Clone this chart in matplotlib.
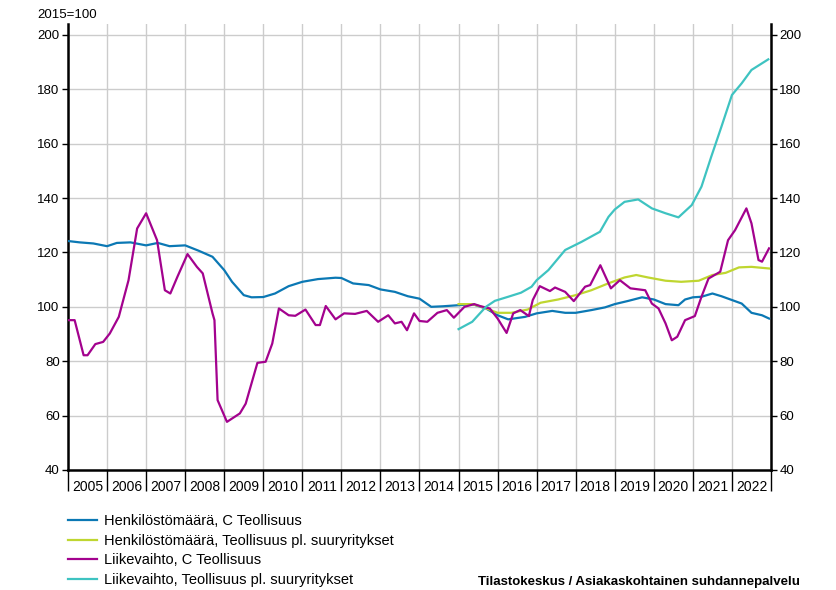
import matplotlib.pyplot as plt
import numpy as np

plt.rcParams['font.family'] = ['Liberation Sans', 'DejaVu Sans']

# Henkilöstömäärä, C Teollisuus
henk_c_t = [2005.0, 2005.3, 2005.65, 2006.0, 2006.25, 2006.6, 2007.0, 2007.3, 2007.6, 2008.0,
            2008.35, 2008.7, 2009.0, 2009.2, 2009.5, 2009.7, 2010.0, 2010.3, 2010.65, 2011.0,
            2011.4, 2011.85, 2012.0, 2012.3, 2012.7, 2013.0, 2013.37, 2013.7, 2014.0, 2014.3,
            2014.6, 2015.0, 2015.35, 2015.7, 2016.0, 2016.27, 2016.7, 2017.0, 2017.4, 2017.73,
            2018.0, 2018.4, 2018.75, 2019.0, 2019.35, 2019.7, 2020.0, 2020.3, 2020.63, 2020.8,
            2021.0, 2021.22, 2021.5, 2021.73, 2022.0, 2022.25, 2022.5, 2022.77, 2022.95]
henk_c = [124.2, 123.7, 123.3, 122.3, 123.5, 123.7, 122.6, 123.5, 122.3, 122.6,
          120.6, 118.4, 113.5, 109.2, 104.3, 103.5, 103.6, 104.9, 107.6, 109.2,
          110.2, 110.7, 110.6, 108.6, 108.0, 106.4, 105.5, 103.9, 103.0, 100.0,
          100.2, 100.6, 101.0, 99.4, 96.9, 95.4, 96.3, 97.6, 98.5, 97.8,
          97.8, 98.8, 99.8, 101.0, 102.2, 103.5, 102.7, 101.0, 100.6, 102.7,
          103.5, 103.7, 104.9, 103.9, 102.5, 101.2, 97.8, 96.9, 95.7]

# Henkilöstömäärä, Teollisuus pl. suuryritykset
henk_pl_t = [2015.0, 2015.35, 2015.6, 2016.0, 2016.35, 2016.77, 2017.1, 2017.55, 2018.0, 2018.4,
             2018.83, 2019.25, 2019.55, 2019.85, 2020.3, 2020.7, 2021.15, 2021.5, 2021.84,
             2022.18, 2022.5, 2022.95]
henk_pl = [101.0, 101.0, 100.0, 97.8, 97.8, 99.0, 101.5, 102.7, 104.3, 106.1,
           108.6, 110.8, 111.7, 110.8, 109.6, 109.2, 109.6, 111.7, 112.5,
           114.5, 114.7, 114.1]

# Liikevaihto, C Teollisuus
liik_c_t = [2005.0, 2005.17, 2005.4, 2005.5, 2005.7, 2005.9, 2006.07, 2006.3, 2006.55, 2006.77,
            2007.0, 2007.28, 2007.48, 2007.62, 2007.8, 2008.06, 2008.3, 2008.45, 2008.7, 2008.75,
            2008.83, 2009.07, 2009.4, 2009.55, 2009.85, 2010.06, 2010.23, 2010.4, 2010.65, 2010.82,
            2011.08, 2011.34, 2011.45, 2011.6, 2011.85, 2012.07, 2012.35, 2012.65, 2012.94, 2013.2,
            2013.37, 2013.54, 2013.68, 2013.86, 2014.0, 2014.2, 2014.46, 2014.7, 2014.88, 2015.15,
            2015.4, 2015.57, 2015.8, 2016.0, 2016.23, 2016.4, 2016.58, 2016.8, 2016.9, 2017.08,
            2017.34, 2017.47, 2017.73, 2017.95, 2018.24, 2018.37, 2018.63, 2018.9, 2019.13, 2019.4,
            2019.78, 2019.95, 2020.12, 2020.3, 2020.46, 2020.6, 2020.8, 2021.05, 2021.22, 2021.4,
            2021.7, 2021.9, 2022.08, 2022.37, 2022.5, 2022.68, 2022.77, 2022.95]
liik_c = [95.1, 95.1, 82.2, 82.2, 86.3, 87.1, 90.2, 96.3, 109.8, 128.8,
          134.4, 124.5, 106.1, 104.9, 111.0, 119.4, 114.7, 112.3, 97.6, 95.1,
          65.7, 57.7, 60.8, 64.4, 79.4, 79.8, 86.5, 99.4, 96.9, 96.7,
          99.0, 93.3, 93.3, 100.3, 95.4, 97.6, 97.4, 98.5, 94.5, 96.9,
          93.9, 94.5, 91.4, 97.6, 94.8, 94.5, 97.8, 98.8, 96.0, 100.0,
          101.0, 100.2, 99.4, 95.7, 90.4, 97.6, 98.8, 96.6, 102.5, 107.6,
          105.8, 107.1, 105.5, 102.1, 107.4, 108.0, 115.3, 106.8, 109.8, 106.8,
          106.1, 101.2, 99.4, 93.9, 87.7, 89.0, 95.1, 96.6, 103.7, 110.4,
          112.9, 124.5, 128.2, 136.2, 130.7, 117.2, 116.6, 121.5]

# Liikevaihto, Teollisuus pl. suuryritykset
liik_pl_t = [2015.0, 2015.35, 2015.7, 2015.93, 2016.27, 2016.6, 2016.87, 2017.0, 2017.3, 2017.73,
             2018.15, 2018.62, 2018.84, 2019.0, 2019.25, 2019.6, 2019.95, 2020.3, 2020.63, 2020.97,
             2021.22, 2021.47, 2021.73, 2022.0, 2022.25, 2022.5, 2022.93]
liik_pl = [91.8, 94.5, 100.0, 102.2, 103.7, 105.2, 107.4, 109.8, 113.5, 120.9,
           123.9, 127.6, 133.1, 135.8, 138.6, 139.5, 136.2, 134.4, 132.9, 137.4,
           144.2, 155.2, 166.2, 177.9, 182.2, 187.1, 191.0]

years = list(range(2005, 2023))
labels = ['Henkilöstömäärä, C Teollisuus',
          'Henkilöstömäärä, Teollisuus pl. suuryritykset',
          'Liikevaihto, C Teollisuus',
          'Liikevaihto, Teollisuus pl. suuryritykset']
colors = ['#0b78b4', '#bfd630', '#a3028e', '#3ec3c1']

fig = plt.figure(figsize=(8.36, 5.9), dpi=100)
ax = fig.add_axes([68 / 836, 120 / 590, 703 / 836, 446 / 590])

series = [(henk_c_t, henk_c), (henk_pl_t, henk_pl), (liik_c_t, liik_c), (liik_pl_t, liik_pl)]
for (t, v), lab, c in zip(series, labels, colors):
    ax.plot(t, v, color=c, lw=1.6, label=lab, zorder=3)

ax.set_xlim(2005, 2023)
ax.set_ylim(40, 204)
ax.set_yticks(np.arange(40, 201, 20))
ax.set_xticks(np.arange(2005, 2024))
ax.set_xticks([y + 0.5 for y in years], minor=True)
ax.set_xticklabels([])
ax.set_xticklabels([str(y) for y in years], minor=True, fontsize=10)
ax.tick_params(axis='x', which='major', direction='out', length=15, width=1, color='black')
ax.tick_params(axis='x', which='minor', length=0, pad=7)
ax.tick_params(axis='y', which='major', direction='out', length=4, width=1,
               labelsize=9.5, left=True, right=True, labelleft=True, labelright=True, pad=2)

ax.grid(True, which='major', color='#cccccc', lw=1, zorder=0)
for s in ['left', 'right', 'bottom']:
    ax.spines[s].set_linewidth(1.8)
    ax.spines[s].set_color('black')
ax.spines['top'].set_visible(False)

fig.text(37 / 836, 1 - 15 / 590, '2015=100', fontsize=9.5, va='center', ha='left')

handles, labs = ax.get_legend_handles_labels()
fig.legend(handles, labs, loc='upper left', bbox_to_anchor=(62 / 836, 1 - 508 / 590),
           frameon=False, handlelength=2.0, handletextpad=0.5, labelspacing=0.4,
           borderaxespad=0, fontsize=10.5)

fig.text(478 / 836, 1.5 / 590, 'Tilastokeskus / Asiakaskohtainen suhdannepalvelu',
         fontsize=9.5, fontweight='bold', va='bottom', ha='left')

fig.savefig('out.png', dpi=100)
